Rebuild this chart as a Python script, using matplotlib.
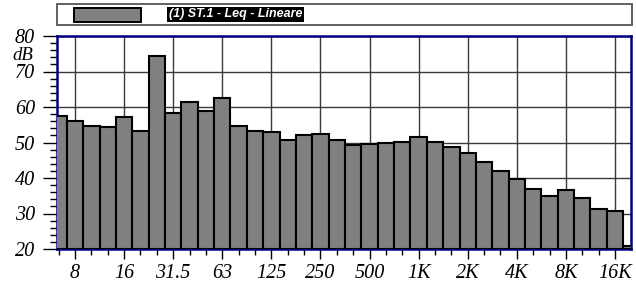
import numpy as np
import matplotlib.pyplot as plt
from matplotlib.patches import Rectangle
from matplotlib.ticker import FixedLocator, MultipleLocator

# 1/3 octave bands 6.3 Hz .. 20 kHz
bands = ["6.3", "8", "10", "12.5", "16", "20", "25", "31.5", "40", "50", "63", "80",
         "100", "125", "160", "200", "250", "315", "400", "500", "630", "800",
         "1K", "1.25K", "1.6K", "2K", "2.5K", "3.15K", "4K", "5K", "6.3K", "8K",
         "10K", "12.5K", "16K", "20K"]
leq = [57.5, 56.1, 54.6, 54.3, 57.1, 53.3, 74.5, 58.2, 61.5, 58.8, 62.5, 54.7,
       53.3, 53.0, 50.7, 52.0, 52.3, 50.6, 49.2, 49.5, 49.8, 50.1,
       51.5, 50.1, 48.6, 47.1, 44.4, 42.1, 39.6, 37.0, 34.9, 36.6,
       34.5, 31.2, 30.8, 20.8]
tick_labels = ["8", "16", "31.5", "63", "125", "250", "500", "1K", "2K", "4K", "8K", "16K"]
series_name = "(1) ST.1 - Leq - Lineare"

W, H = 636, 286
fig = plt.figure(figsize=(W / 100, H / 100), dpi=100)
ax = fig.add_axes([57.5 / W, 1 - 249 / H, (631 - 57.5) / W, (249 - 36) / H])

x = np.arange(len(bands))
base = 20
ax.bar(x, np.array(leq) - base, bottom=base, width=1.0, color="#808080",
       edgecolor="black", linewidth=1.5, zorder=3)

ax.set_xlim(-0.07, 34.98)
ax.set_ylim(20, 80)

major_pos = [bands.index(t) for t in tick_labels]
ax.xaxis.set_major_locator(FixedLocator(major_pos))
ax.xaxis.set_minor_locator(FixedLocator(list(x)))
ax.set_xticklabels(tick_labels)
ax.yaxis.set_major_locator(MultipleLocator(10))
ax.yaxis.set_minor_locator(MultipleLocator(2))

for t in ax.get_xticklabels() + ax.get_yticklabels():
    t.set_fontfamily("Liberation Serif")
    t.set_fontstyle("italic")
    t.set_fontsize(14.5)

ax.tick_params(axis="x", which="major", direction="out", length=7, width=1, pad=4)
ax.tick_params(axis="x", which="minor", direction="out", length=4.5, width=1)
ax.tick_params(axis="y", which="major", direction="out", length=10, width=1, pad=6)
ax.tick_params(axis="y", which="minor", direction="out", length=5, width=1)

ax.grid(True, which="major", color="#3a3a3a", linewidth=1.0, zorder=0)
ax.set_axisbelow(True)
for s in ax.spines.values():
    s.set_color("#000080")
    s.set_linewidth(1.8)

fig.text(33 / W, 1 - 56 / H, "dB", ha="right", va="center",
         family="Liberation Serif", style="italic", size=13.5)

# legend strip across the top
fig.patches.append(Rectangle((57.3 / W, 1 - 25 / H), (632 - 57.3) / W, 21 / H,
                             transform=fig.transFigure, facecolor="white",
                             edgecolor="#606060", linewidth=1.4))
fig.patches.append(Rectangle((74 / W, 1 - 22 / H), (140.7 - 74) / W, 14.3 / H,
                             transform=fig.transFigure, facecolor="#808080",
                             edgecolor="black", linewidth=1.4))
fig.text(169 / W, 1 - 14.5 / H, series_name, ha="left", va="center", color="white",
         family="Liberation Sans", weight="bold", style="italic", size=9,
         bbox=dict(facecolor="black", edgecolor="none", pad=1.2))

fig.savefig("out.png", dpi=100)
